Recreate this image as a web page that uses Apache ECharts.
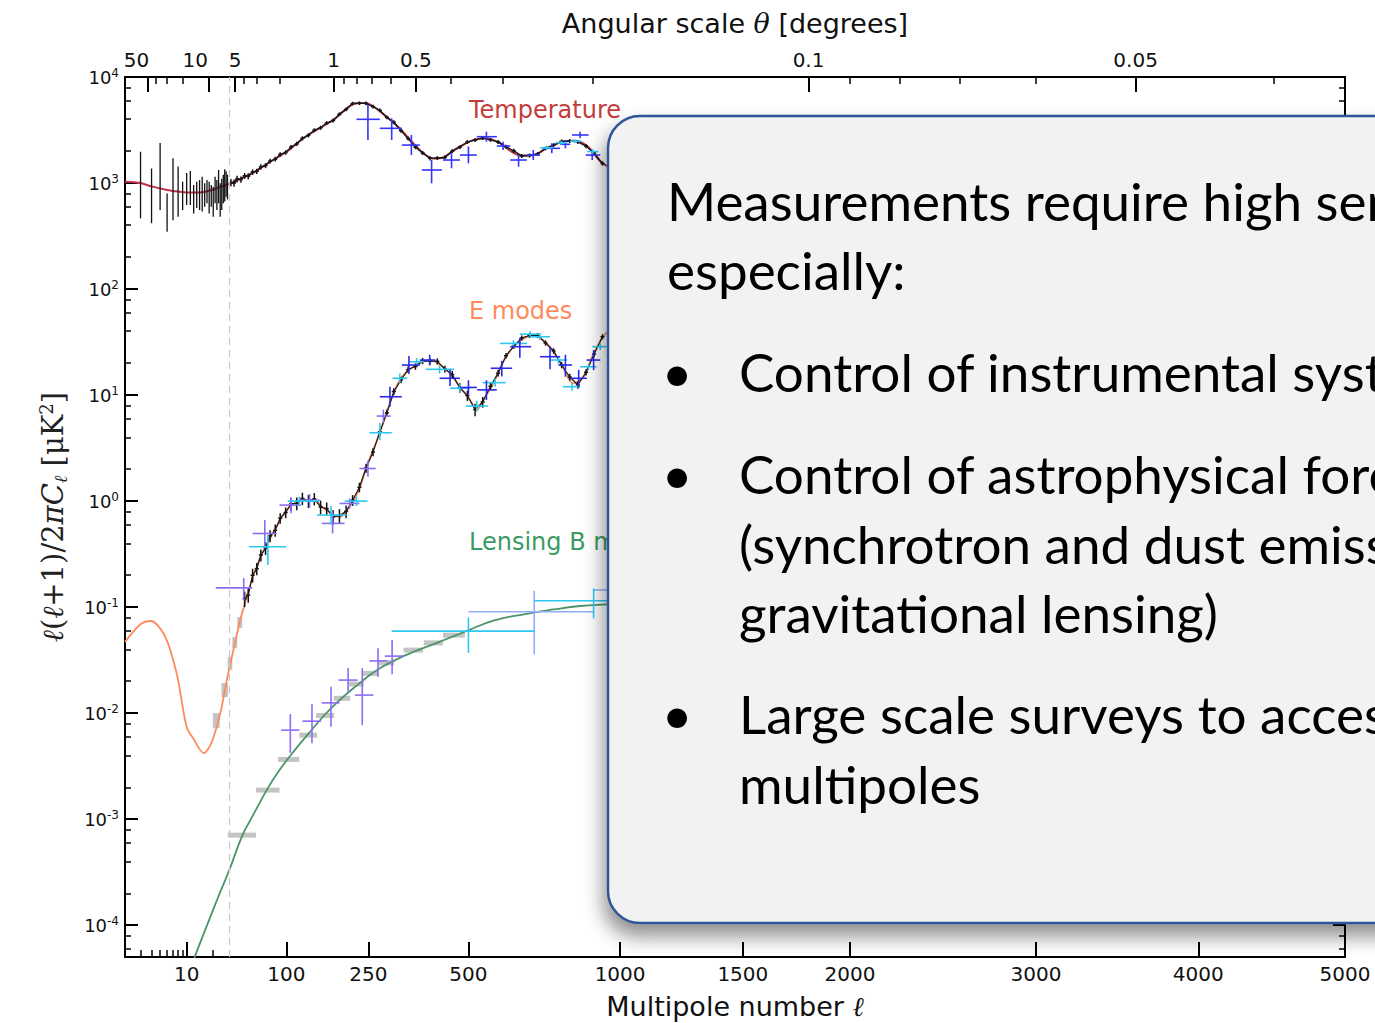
<!DOCTYPE html>
<html><head><meta charset="utf-8">
<script src="https://cdn.jsdelivr.net/npm/echarts@6/dist/echarts.min.js"></script>
<style>html,body{margin:0;padding:0;background:#fff;}#c{width:1375px;height:1023px;}</style>
</head><body><div id="c"></div>
<script>
// ---------------- DATA ----------------
// Bottom axis tick labels (multipole) and minor ticks
const bottomTickL = [10, 100, 250, 500, 1000, 1500, 2000, 3000, 4000, 5000];
const bottomMinorL = [3, 4, 5, 6, 7, 8, 9, 20];
// Top axis: angular scale (degrees)
const topTickTheta = [50, 10, 5, 1, 0.5, 0.1, 0.05];
const topMinorTheta = [40, 30, 20, 4, 3, 2, 0.9, 0.8, 0.7, 0.6, 0.4, 0.3, 0.2, 0.09, 0.08, 0.07, 0.06, 0.04];
// y axis decades
const yDecades = [-4, -3, -2, -1, 0, 1, 2, 3, 4];

// Temperature theory curve
const ttTheoryL = [2,3,4,6,8,10,14,20,25,30,40,55,75,100,130,160,180,200,220,240,260,290,320,350,380,404,430,467,513,552,592,654,697,741,797,832,880,927,960,1000];
const ttTheoryD = [1030,1000,930,860,830,815,815,870,930,975,1080,1240,1550,1970,2730,3430,3950,4820,5600,5680,5300,4220,3300,2450,1900,1700,1740,2120,2540,2640,2380,1820,1830,2130,2460,2500,2230,1600,1400,1150];

// E-mode theory curve
const eeTheoryL = [2,3,4,5,6,7,8,10,12,15.6,19,24,28,30,35,41,47,53,59,64,72,85,100,120,142,166,191,211,231,246,275,298,321,353,395,440,476,504,524,543,573,602,645,697,741,786,832,868,903,947,1000];
const eeTheoryD = [0.047,0.069,0.074,0.063,0.048,0.032,0.0205,0.0074,0.0057,0.0042,0.0052,0.0099,0.019,0.025,0.042,0.074,0.114,0.17,0.23,0.29,0.38,0.56,0.82,1.0,1.02,0.82,0.71,0.88,1.3,2.1,4.4,8.4,13.9,18.5,21.4,17.2,12.0,9.0,7.2,9.0,12.9,20.6,30.7,36.8,30.7,20.6,12.9,14.9,24.7,38.2,43];

// Lensing B-mode theory curve
const bbTheoryL = [11,12.3,16.7,23.7,30.4,43.8,53,63,72,85,105,137,178,231,275,337,421,495,573,676,763,855,950,1000];
const bbTheoryD = [3.9e-5,5.0e-5,9.6e-5,2.0e-4,3.3e-4,7.1e-4,1.0e-3,1.4e-3,1.85e-3,2.6e-3,3.9e-3,6.6e-3,0.0115,0.0191,0.0265,0.0355,0.0471,0.0595,0.0745,0.0865,0.095,0.1025,0.106,0.107];

// Low-l temperature measurements: l, value, low, high
const ttLowL  = [3,4,5,6,7,8,9,10,11,12,13,14,15,16,17,18,19,20,21,22,23,24,25,26,27,28,29];
const ttLowD  = [950,760,1150,530,870,830,760,880,900,700,780,760,780,780,820,760,760,700,850,780,900,700,800,870,950,980,920];
const ttLowLo = [464,418,556,347,446,481,556,620,620,517,580,556,540,598,643,517,598,481,643,556,643,481,556,643,670,743,700];
const ttLowHi = [1974,1370,2390,798,1710,1430,1030,1240,1300,957,1030,1067,1146,993,1067,1030,957,922,1146,1067,1327,993,1100,1200,1350,1290,1200];

// Binned temperature measurements (l, value, error)
const ttL = [32,35,38,42,46,50,55,60,65,71,77,84,91,99,107,116,125,135,145,156,167,179,191,204,217,231,245,260,275,291,307,324,341,359,377,396,415,435,455,476,497,519,541,564,587,611,635,660,685,711,737,764,791,819,847,876,905,935];
const ttD = [1010,1000,1090,1080,1170,1160,1270,1290,1420,1460,1610,1680,1860,1940,2180,2340,2640,2820,3150,3320,3680,3890,4460,4950,5620,5660,5640,5250,4850,4160,3740,3110,2630,2180,1920,1710,1720,1740,2000,2180,2440,2540,2650,2550,2440,2200,2010,1800,1820,1880,2120,2280,2470,2490,2440,2230,1920,1530];
const ttErr = [80,80,80,75,75,75,75,75,80,80,85,85,90,95,100,110,120,125,135,145,155,165,185,205,225,225,225,215,200,175,160,135,115,95,85,75,75,75,85,90,100,105,105,105,100,95,90,80,80,85,90,95,105,105,105,100,90,75];

// Binned E-mode measurements (l, value, error)
const eeL = [46,50,55,60,65,71,77,84,91,99,107,116,125,135,145,156,167,179,191,204,217,231,245,260,275,291,307,324,341,359,377,396,415,435,455,476,497,519,541,564,587,611,635,660,685,711,737,764,791,819,847,876,905,935];
const eeD = [0.12,0.13,0.20,0.23,0.31,0.36,0.47,0.53,0.69,0.78,0.94,0.95,1.06,1.0,1.05,0.88,0.85,0.71,0.73,0.80,1.02,1.35,2.05,2.9,4.5,6.8,10.8,13.9,17.4,18.6,21.0,20.9,20.8,17.6,15.6,11.7,9.9,7.3,8.6,12.1,16.1,23.5,29.0,34.6,36.5,36.6,31.0,26.1,19.2,14.8,12.5,16.4,24.4,35.5];
const eeErr = [0.02,0.02,0.03,0.03,0.04,0.05,0.06,0.07,0.08,0.09,0.13,0.13,0.14,0.14,0.14,0.13,0.12,0.11,0.11,0.11,0.12,0.14,0.2,0.25,0.35,0.5,0.8,1.0,1.2,1.3,1.4,1.4,1.4,1.3,1.3,1.2,1.1,1.0,1.0,1.0,1.1,1.4,1.7,1.9,2.0,2.0,1.8,1.6,1.3,1.1,1.0,1.1,1.5,2.0];

// Other experiments: [l, lLow, lHigh, value, valueLow, valueHigh]
const ttBlueCrosses = [
  [249,225,275,3990,2546,5445],[302,275,326,3281,2546,4074],[349,326,370,2280,1836,2838],
  [400,375,427,1327,993,1648],[453,430,476,1648,1376,1905],[500,476,524,1836,1533,2210],
  [552,524,583,2734,2450,3050],[602,583,624,2233,2048,2450],[650,624,676,1648,1427,1836],
  [697,676,719,1836,1648,2048],[758,730,786,2124,1905,2371],[804,786,821,2320,2124,2546],
  [855,827,885,2838,2640,3050],[898,875,927,1836,1648,2048]
];
const ttCyanCrosses = [
  [740,720,760,2150,2050,2250],[790,770,810,2400,2300,2500],[840,820,860,2480,2380,2580],[900,880,920,1980,1880,2080]
];
const eeVioletCrosses = [
  [45,21.4,54.6,0.152,0.116,0.188],[70,55,86,0.495,0.36,0.662],[107,90,123,0.917,0.77,1.09],
  [137,120,154,1.02,0.87,1.17],[178,158,201,0.616,0.495,0.792],[211,191,231,0.95,0.85,1.06],
  [249,231,266,2.03,1.7,2.4],[283,268,300,6.34,5.5,7.3]
];
const eeCyanCrosses = [
  [74,51,99.5,0.371,0.249,0.478],[120,102,154,1.0,0.9,1.1],[175,150,205,0.738,0.6,0.9],
  [225,201,248,1.0,0.9,1.1],[275,252,302,4.41,3.76,5.45],[321,304,339,14.4,13.0,16.0],
  [362,345,380,20.6,19.0,22.3],[421,385,460,17.5,16.0,19.0],[476,449,504,11.6,10.6,12.7],
  [524,493,557,7.87,7.0,8.8],[578,540,610,13.1,12.0,14.3],[634,593,677,30.7,28.5,33],
  [687,654,719,37.6,35,40],[719,687,752,35.5,33,38],[780,752,810,21.4,19.8,23],
  [827,795,855,12.0,11.0,13.0],[885,855,914,18.5,17.2,19.8],[927,898,950,28.6,26.5,30.8]
];
const eeBlueCrosses = [
  [298,275,326,9.64,7.76,11.97],[343,326,370,19.2,15.8,23.3],[395,370,410,21.4,19.0,24.0],
  [449,421,476,14.4,12.2,17.3],[500,476,524,11.8,10.1,13.8],[552,525,583,11.2,9.0,13.8],
  [598,565,630,17.9,15,21],[654,624,690,28.6,22.5,34.6],[752,719,786,23.0,17.5,28.8],
  [804,780,827,19.2,14.9,24],[850,821,879,14.4,11.8,17.3],[903,878,927,21.4,17.2,26.6]
];
const bbVioletCrosses = [
  [106,92.3,120,6.92e-3,4.22e-3,9.8e-3],[141,125,157,8.4e-3,5.21e-3,0.01216],
  [175,158,191,0.0125,7.43e-3,0.0177],[208,189,227,0.0205,0.0159,0.0266],
  [237,222,261,0.0148,7.7e-3,0.0266],[271,252,293,0.0311,0.022,0.041],[303,286,330,0.0345,0.0233,0.0489]
];
const bbCyanCrosses = [[500,302,700,0.0594,0.037,0.080],[903,700,1100,0.1148,0.0782,0.150]];
const bbLightCrosses = [[700,500,903,0.0903,0.0358,0.1426],[1100,903,1300,0.145,0.11,0.18]];
// Forecast boxes: E modes [lLow, lHigh, valueLow, valueHigh]
const eeGrayBoxes = [[19.8,23.7,0.0072,0.0100],[24.8,29.5,0.0142,0.0192],[29.2,33.3,0.0255,0.0338],[33.3,38.2,0.041,0.0521],[38.2,43.4,0.0634,0.0805]];
// Forecast bins: B modes [lLow, lHigh, value]
const bbGrayBins = [[29.2,59,7.07e-4],[59,90,1.88e-3],[88,120,3.66e-3],[120,150,6.2e-3],[148,181,9.5e-3],[180,212,0.0138],[210,240,0.0188],[238,272,0.0237],[272,308,0.0298],[330,378,0.0393],[380,430,0.046],[430,490,0.0544]];

// ---------------- SCALES ----------------
const LT = 30, PW = 0.6, KLOG = 12.49;
const UT = Math.pow(LT, PW);
function T(l) { return l >= LT ? Math.pow(l, PW) : UT + (Math.log10(l) - Math.log10(LT)) * KLOG; }
const LG = Math.log10;
const X_MIN = T(2), X_MAX = T(5000), Y_MIN = -4.3, Y_MAX = 4;

function nearest(v, list, fn) { let b = list[0], bd = 1e9; for (const t of list) { const d = Math.abs(fn(t) - v); if (d < bd) { bd = d; b = t; } } return b; }
const thetaToL = th => 180 / th;

const yMinor = [];
for (let n = -5; n <= 3; n++) for (const k of [2, 4, 6, 8]) { const v = n + LG(k); if (v > Y_MIN && v < Y_MAX) yMinor.push(v); }

// ---------------- SERIES BUILDERS ----------------
function lineSeries(Ls, Ds, color, width, z, extra) {
  return Object.assign({ type: 'line', data: Ls.map((l, i) => [T(l), LG(Ds[i])]), showSymbol: false, symbol: 'none',
    smooth: 0.3, lineStyle: { color, width }, z, silent: true, clip: true, animation: false }, extra || {});
}
function errSeries(rows, color, width, cap, z) {
  return { type: 'custom', clip: true, z, silent: true, animation: false, data: rows,
    encode: { x: 0, y: [1, 2, 3] },
    renderItem: (p, api) => {
      const a = api.coord([api.value(0), api.value(2)]), b = api.coord([api.value(0), api.value(3)]), c = api.coord([api.value(0), api.value(1)]);
      const ch = [{ type: 'line', shape: { x1: a[0], y1: a[1], x2: b[0], y2: b[1] }, style: { stroke: color, lineWidth: width } }];
      if (cap) ch.push({ type: 'line', shape: { x1: c[0] - cap, y1: c[1], x2: c[0] + cap, y2: c[1] }, style: { stroke: color, lineWidth: width } });
      return { type: 'group', children: ch };
    } };
}
function crossSeries(rows, color, width, z) {
  return { type: 'custom', clip: true, z, silent: true, animation: false,
    data: rows.map(r => [T(r[0]), T(r[1]), T(r[2]), LG(r[3]), LG(r[4]), LG(r[5])]),
    encode: { x: [0, 1, 2], y: [3, 4, 5] },
    renderItem: (p, api) => {
      const l = api.coord([api.value(1), api.value(3)]), r = api.coord([api.value(2), api.value(3)]);
      const t = api.coord([api.value(0), api.value(5)]), b = api.coord([api.value(0), api.value(4)]);
      return { type: 'group', children: [
        { type: 'line', shape: { x1: l[0], y1: l[1], x2: r[0], y2: r[1] }, style: { stroke: color, lineWidth: width } },
        { type: 'line', shape: { x1: t[0], y1: t[1], x2: b[0], y2: b[1] }, style: { stroke: color, lineWidth: width } }] };
    } };
}
function boxSeries(rows, color, z) {
  return { type: 'custom', clip: true, z, silent: true, animation: false,
    data: rows.map(r => [T(r[0]), T(r[1]), LG(r[2]), LG(r[3])]), encode: { x: [0, 1], y: [2, 3] },
    renderItem: (p, api) => {
      const a = api.coord([api.value(0), api.value(3)]), b = api.coord([api.value(1), api.value(2)]);
      return { type: 'rect', shape: { x: a[0], y: a[1], width: b[0] - a[0], height: b[1] - a[1] }, style: { fill: color } };
    } };
}
function binSeries(rows, color, thick, z) {
  return { type: 'custom', clip: true, z, silent: true, animation: false,
    data: rows.map(r => [T(r[0]), T(r[1]), LG(r[2])]), encode: { x: [0, 1], y: 2 },
    renderItem: (p, api) => {
      const a = api.coord([api.value(0), api.value(2)]), b = api.coord([api.value(1), api.value(2)]);
      return { type: 'line', shape: { x1: a[0], y1: a[1], x2: b[0], y2: b[1] }, style: { stroke: color, lineWidth: thick } };
    } };
}

const ttLowRows = ttLowL.map((l, i) => [T(l), LG(ttLowD[i]), LG(ttLowLo[i]), LG(ttLowHi[i])]);
const ttRows = ttL.map((l, i) => [T(l), LG(ttD[i]), LG(ttD[i] - ttErr[i]), LG(ttD[i] + ttErr[i])]);
const eeRows = eeL.map((l, i) => [T(l), LG(eeD[i]), LG(eeD[i] - eeErr[i]), LG(eeD[i] + eeErr[i])]);

// ---------------- AXES ----------------
const FONT = 'DejaVu Sans';
const axisLineStyle = { color: '#000', width: 2 };
function xAxisDef(pos, majorVals, label, opts) {
  return Object.assign({ type: 'value', position: pos, min: X_MIN, max: X_MAX, splitLine: { show: false },
    axisLine: { show: true, onZero: false, lineStyle: axisLineStyle },
    axisTick: { show: true, inside: true, length: 15, customValues: majorVals, lineStyle: { color: '#000', width: 2 } },
    axisLabel: Object.assign({ show: true, customValues: majorVals, fontSize: 20, fontFamily: FONT, color: '#111', margin: 7, hideOverlap: false, showMinLabel: true, showMaxLabel: true }, label)
  }, opts || {});
}
function xMinorDef(pos, vals) {
  return { type: 'value', position: pos, min: X_MIN, max: X_MAX, splitLine: { show: false }, axisLine: { show: false, onZero: false },
    axisTick: { show: true, inside: true, length: 7, customValues: vals, lineStyle: { color: '#000', width: 1.5 } }, axisLabel: { show: false } };
}
function yAxisDef(pos, vals, len, width, label, opts) {
  return Object.assign({ type: 'value', position: pos, min: Y_MIN, max: Y_MAX, splitLine: { show: false },
    axisLine: { show: true, onZero: false, lineStyle: axisLineStyle },
    axisTick: { show: true, inside: true, length: len, customValues: vals, lineStyle: { color: '#000', width } },
    axisLabel: label ? { show: true, customValues: vals, margin: 6, hideOverlap: false, showMinLabel: true, showMaxLabel: true,
      formatter: v => '{b|10}{s|' + Math.round(v) + '}',
      rich: { b: { fontSize: 18, fontFamily: FONT, color: '#111', lineHeight: 20 }, s: { fontSize: 12, fontFamily: FONT, color: '#111', lineHeight: 12, verticalAlign: 'top' } } } : { show: false }
  }, opts || {});
}

const bottomMajor = bottomTickL.map(T);
const topMajor = topTickTheta.map(th => T(thetaToL(th)));
const titleStyle = { fontSize: 27, fontFamily: FONT, color: '#111', rich: { l: { fontSize: 27, fontFamily: 'DejaVu Serif', fontStyle: 'italic', color: '#111' } } };
const boxFont = { fontSize: 53, fontFamily: 'Lato', fill: '#000', verticalAlign: 'middle' };

const option = {
  animation: false,
  backgroundColor: '#fff',
  textStyle: { fontFamily: FONT },
  grid: { left: 125, right: 30, top: 77, bottom: 66, containLabel: false, outerBoundsMode: 'none' },
  xAxis: [
    xAxisDef('bottom', bottomMajor, { formatter: v => String(nearest(v, bottomTickL, T)) }, {
      name: 'Multipole number {l|ℓ}', nameLocation: 'middle', nameGap: 36, nameTextStyle: titleStyle }),
    xMinorDef('bottom', bottomMinorL.map(T)),
    xAxisDef('top', topMajor, {
      formatter: v => {
        const th = nearest(v, topTickTheta, t => T(thetaToL(t)));
        if (th === 50) return '{p|50}'; if (th === 10) return '{q|10}'; return String(th);
      },
      rich: { p: { fontSize: 20, fontFamily: FONT, color: '#111', padding: [0, 22, 0, 0] }, q: { fontSize: 20, fontFamily: FONT, color: '#111', padding: [0, 28, 0, 0] } }
    }, { name: 'Angular scale {l|θ} [degrees]', nameLocation: 'middle', nameGap: 40, nameTextStyle: titleStyle }),
    xMinorDef('top', topMinorTheta.map(th => T(thetaToL(th))))
  ],
  yAxis: [
    yAxisDef('left', yDecades, 13, 2, true, {
      name: '{i|ℓ}{r|(}{i|ℓ}{r|+1)/2}{i|πC}{sub|ℓ}{r| [μK}{sup|2}{r|]}', nameLocation: 'middle', nameGap: 56,
      nameTextStyle: { rich: {
        r: { fontSize: 29, fontFamily: 'DejaVu Serif', color: '#222', lineHeight: 32 },
        i: { fontSize: 29, fontFamily: 'DejaVu Serif', fontStyle: 'italic', color: '#222', lineHeight: 32 },
        sub: { fontSize: 18, fontFamily: 'DejaVu Serif', fontStyle: 'italic', color: '#222', lineHeight: 18, verticalAlign: 'bottom' },
        sup: { fontSize: 18, fontFamily: 'DejaVu Serif', color: '#222', lineHeight: 18, verticalAlign: 'top' } } } }),
    yAxisDef('left', yMinor, 6, 1.5, false, { axisLine: { show: false, onZero: false } }),
    yAxisDef('right', yDecades, 12, 2, false),
    yAxisDef('right', yMinor, 6, 1.5, false, { axisLine: { show: false, onZero: false } })
  ],
  series: [
    lineSeries(ttTheoryL, ttTheoryD, '#c0304a', 2, 3, {
      markLine: { silent: true, symbol: ['none', 'none'], label: { show: false }, animation: false,
        lineStyle: { color: '#c8c8c8', type: [7, 5], width: 1.2 }, data: [{ xAxis: T(30) }] } }),
    lineSeries(eeTheoryL, eeTheoryD, '#ff8a5c', 1.8, 3),
    lineSeries(bbTheoryL, bbTheoryD, '#4a9468', 1.8, 3, { smooth: 0.5 }),
    boxSeries(eeGrayBoxes, '#c4c4c4', 2),
    binSeries(bbGrayBins, '#c4c4c4', 5, 2),
    errSeries(ttLowRows, '#111', 1.3, 0, 4),
    lineSeries(ttL, ttD, '#1a1a1a', 1.4, 4, { smooth: false }),
    errSeries(ttRows, '#111', 1.5, 2, 4),
    lineSeries(eeL, eeD, '#1a1a1a', 1.2, 4, { smooth: false }),
    errSeries(eeRows, '#111', 1.5, 2, 4),
    crossSeries(ttBlueCrosses, '#3434ff', 1.6, 5),
    crossSeries(ttCyanCrosses, '#2cc8f0', 1.6, 5),
    crossSeries(eeVioletCrosses, '#8c6cf5', 1.6, 5),
    crossSeries(eeCyanCrosses, '#2cc8f0', 1.6, 5),
    crossSeries(eeBlueCrosses, '#2a2ae8', 1.6, 5),
    crossSeries(bbVioletCrosses, '#8c6cf5', 1.6, 5),
    crossSeries(bbLightCrosses, '#90aef8', 1.6, 5),
    crossSeries(bbCyanCrosses, '#2cc8f0', 1.6, 5)
  ],
  graphic: [
    { type: 'text', x: 469, y: 110, z: 50, style: { text: 'Temperature', fontSize: 24, fontFamily: FONT, fill: '#c43c3c', verticalAlign: 'middle' } },
    { type: 'text', x: 469, y: 311, z: 50, style: { text: 'E modes', fontSize: 24, fontFamily: FONT, fill: '#ff8a5c', verticalAlign: 'middle' } },
    { type: 'text', x: 469, y: 542, z: 50, style: { text: 'Lensing B modes', fontSize: 24, fontFamily: FONT, fill: '#3c9a63', verticalAlign: 'middle' } },
    { type: 'rect', z: 100, shape: { x: 608, y: 116, width: 900, height: 807, r: 32 },
      style: { fill: '#f2f2f2', stroke: '#2f5496', lineWidth: 2.5, shadowBlur: 20, shadowOffsetX: -3, shadowOffsetY: 12, shadowColor: 'rgba(0,0,0,0.45)' } },
    { type: 'text', z: 101, x: 667, y: 200, style: Object.assign({ text: 'Measurements require high sensitivity,' }, boxFont) },
    { type: 'text', z: 101, x: 667, y: 269, style: Object.assign({ text: 'especially:' }, boxFont) },
    { type: 'text', z: 101, x: 677, y: 371, style: Object.assign({ text: '•', align: 'center' }, boxFont) },
    { type: 'text', z: 101, x: 739, y: 371, style: Object.assign({ text: 'Control of instrumental systematics' }, boxFont) },
    { type: 'text', z: 101, x: 677, y: 473, style: Object.assign({ text: '•', align: 'center' }, boxFont) },
    { type: 'text', z: 101, x: 739, y: 473, style: Object.assign({ text: 'Control of astrophysical foregrounds' }, boxFont) },
    { type: 'text', z: 101, x: 739, y: 543, style: Object.assign({ text: '(synchrotron and dust emission,' }, boxFont) },
    { type: 'text', z: 101, x: 739, y: 612, style: Object.assign({ text: 'gravitational lensing)' }, boxFont) },
    { type: 'text', z: 101, x: 677, y: 713, style: Object.assign({ text: '•', align: 'center' }, boxFont) },
    { type: 'text', z: 101, x: 739, y: 713, style: Object.assign({ text: 'Large scale surveys to access low' }, boxFont) },
    { type: 'text', z: 101, x: 739, y: 783, style: Object.assign({ text: 'multipoles' }, boxFont) }
  ]
};

const chart = echarts.init(document.getElementById('c'), null, { renderer: 'svg', width: 1375, height: 1023 });
chart.setOption(option);
</script></body></html>
